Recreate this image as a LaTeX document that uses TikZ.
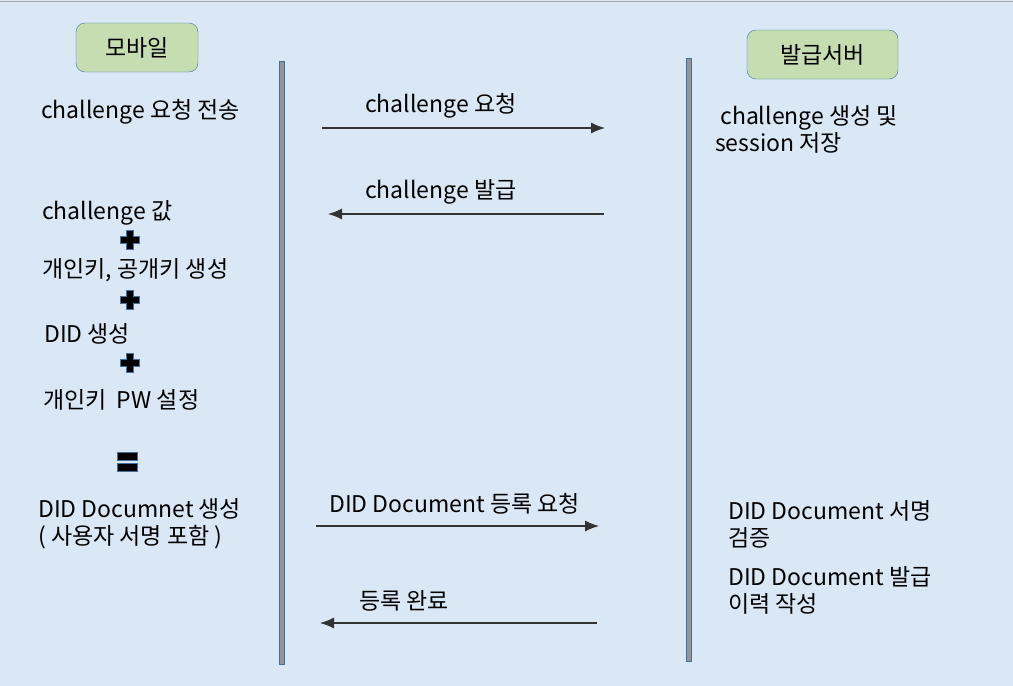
\documentclass[tikz,border=0pt]{standalone}
\usepackage{fontspec}
\setmainfont{Noto Sans CJK KR}
\usepackage{xcolor}
\usepackage{tikz}
\usetikzlibrary{arrows.meta}
\definecolor{sky}{HTML}{DAE8F5}
\definecolor{leaf}{HTML}{C5DDB0}
\definecolor{steel}{HTML}{41719C}
\definecolor{pole}{HTML}{959595}

\begin{document}
\begin{tikzpicture}[x=1pt,y=-1pt,
  txt/.style={anchor=west,inner sep=0pt,align=left,yshift=-2pt,font=\fontsize{23}{27}\selectfont},
  actor/.style={draw=steel,fill=leaf,rounded corners=9pt,minimum height=49pt,inner sep=0pt,font=\fontsize{23}{27}\selectfont},
  msg/.style={-{Latex[length=14pt,width=11pt]},line width=1.2pt,black!80}]
\useasboundingbox (0,0) rectangle (1013,686);
\fill[sky] (0,0) rectangle (1013,686);
\draw[gray!70,line width=1.5pt] (0,1.5)--(1013,1.5);
% actors and lifelines
\node[actor,minimum width=122pt] (mob) at (137,47.5) {모바일};
\node[actor,minimum width=151pt] (srv) at (822.5,54.5) {발급서버};
\fill[pole] (279.5,61) rectangle (284,664);
\draw[steel,line width=0.4pt] (279.5,61) rectangle (284,664);
\fill[pole] (686.5,58) rectangle (691,661);
\draw[steel,line width=0.4pt] (686.5,58) rectangle (691,661);
% mobile side
\node[txt] (m1) at (41,110) {challenge 요청 전송};
\node[txt] (m2) at (42,211) {challenge 값};
\node[txt] (m3) at (42,268) {개인키, 공개키 생성};
\node[txt] (m4) at (44,332) {DID 생성};
\node[txt] (m5) at (43,398) {개인키\ \ PW 설정};
\node[txt] (m6) at (38,521.5) {DID Documnet 생성\\( 사용자 서명 포함 )};
\foreach \y in {240,299.5,363}{\draw[steel,fill=black,line width=0.6pt] (126,\y-9.5)--(133,\y-9.5)--(133,\y-3.5)--(139,\y-3.5)--(139,\y+3.5)--(133,\y+3.5)--(133,\y+9.5)--(126,\y+9.5)--(126,\y+3.5)--(120,\y+3.5)--(120,\y-3.5)--(126,\y-3.5)--cycle;}
\draw[steel,fill=black,line width=0.6pt] (117.5,452.5) rectangle (137.5,460.5);
\draw[steel,fill=black,line width=0.6pt] (117.5,463.5) rectangle (137.5,471.5);
% server side
\node[txt] (s1) at (715,127.5) {\ challenge 생성 및\\session 저장};
\node[txt] (s2) at (728,522) {DID Document 서명\\검증};
\node[txt] (s3) at (728,588.5) {DID Document 발급\\이력 작성};
% messages
\coordinate (a1) at (322,128); \coordinate (b1) at (605,128);
\coordinate (a2) at (328,214); \coordinate (b2) at (604,214);
\coordinate (a3) at (316,526); \coordinate (b3) at (599,526);
\coordinate (a4) at (320,623); \coordinate (b4) at (597,623);
\draw[msg] (a1)--(b1);
\draw[msg] (b2)--(a2);
\draw[msg] (a3)--(b3);
\draw[msg] (b4)--(a4);
\node[txt] (l1) at (365,104) {challenge 요청};
\node[txt] (l2) at (365,190) {challenge 발급};
\node[txt] (l3) at (329,502) {DID Document 등록 요청};
\node[txt] (l4) at (359,599) {등록 완료};
\end{tikzpicture}
\end{document}
